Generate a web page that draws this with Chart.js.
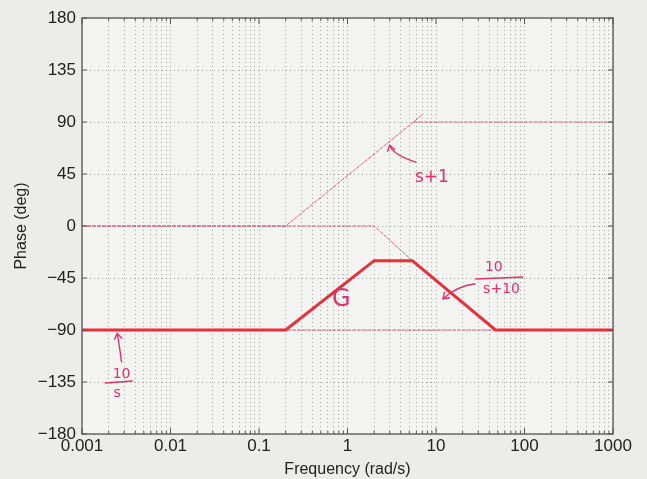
<!DOCTYPE html>
<html>
<head>
<meta charset="utf-8">
<script src="https://cdn.jsdelivr.net/npm/chart.js@4.4.0/dist/chart.umd.min.js"></script>
<style>
  html, body { margin: 0; padding: 0; background: #ececea; }
</style>
</head>
<body>
<canvas id="phaseChart" width="647" height="479"></canvas>
<script>
// axis ticks
const decades = [0.001, 0.01, 0.1, 1, 10, 100, 1000]
const phaseTicks = [-180, -135, -90, -45, 0, 45, 90, 135, 180]

// G (thick sketch), sum of the three asymptotes
const gFreq = [0.001, 0.2, 2, 5.4, 47, 1000]
const gPhase = [-90, -90, -30, -30, -90, -90]

// 10/s
const integFreq = [0.001, 1000]
const integPhase = [-90, -90]

// s+1
const leadFreq = [0.001, 0.2, 7.2]
const leadPhase = [0, 0, 97]
const leadTopFreq = [5.6, 1000]
const leadTopPhase = [90, 90]

// 10/(s+10)
const lagFreq = [0.001, 2, 5.4]
const lagPhase = [0, 0, -30]

const pts = (xs, ys) => xs.map((x, i) => ({ x, y: ys[i] }))

const thinRed = 'rgba(230, 60, 105, 0.8)'
const penRed = '#e8303a'
const inkRed = '#e4306a'

const thin = (xs, ys) => ({
    data: pts(xs, ys),
    showLine: true,
    borderColor: thinRed,
    borderWidth: 1,
    borderDash: [4, 1],
    pointRadius: 0,
    order: 2
})

const data = {
    datasets: [
        thin(integFreq, integPhase),
        thin(leadFreq, leadPhase),
        thin(leadTopFreq, leadTopPhase),
        thin(lagFreq, lagPhase),
        {
            data: pts(gFreq, gPhase),
            showLine: true,
            borderColor: penRed,
            borderWidth: 3,
            pointRadius: 0,
            order: 1
        }
    ]
}

// paper background, box, inner ticks and the pen notes
const sketchPlugin = {
    id: 'sketch',
    beforeDraw(chart) {
        const { ctx, chartArea: a } = chart
        ctx.save()
        ctx.fillStyle = '#ececea'
        ctx.fillRect(0, 0, chart.width, chart.height)
        ctx.fillStyle = '#f4f4f2'
        ctx.fillRect(a.left, a.top, a.right - a.left, a.bottom - a.top)
        ctx.restore()
    },
    afterDraw(chart) {
        const { ctx, chartArea: a, scales: { x, y } } = chart
        ctx.save()
        ctx.strokeStyle = '#555'
        ctx.lineWidth = 1.3
        ctx.strokeRect(a.left, a.top, a.right - a.left, a.bottom - a.top)

        // inward ticks
        ctx.lineWidth = 1
        ctx.beginPath()
        phaseTicks.forEach(v => {
            const py = y.getPixelForValue(v)
            ctx.moveTo(a.left, py); ctx.lineTo(a.left + 5, py)
            ctx.moveTo(a.right, py); ctx.lineTo(a.right - 5, py)
        })
        x.ticks.forEach(t => {
            const px = x.getPixelForValue(t.value)
            const len = decades.includes(t.value) ? 6 : 3
            ctx.moveTo(px, a.bottom); ctx.lineTo(px, a.bottom - len)
            ctx.moveTo(px, a.top); ctx.lineTo(px, a.top + len)
        })
        ctx.stroke()

        // handwritten notes
        const P = (fx, ph) => [x.getPixelForValue(fx), y.getPixelForValue(ph)]
        ctx.strokeStyle = inkRed
        ctx.fillStyle = inkRed
        ctx.lineWidth = 1.4
        ctx.textAlign = 'center'
        ctx.textBaseline = 'middle'

        const arrow = (from, ctrl, to) => {
            ctx.beginPath()
            ctx.moveTo(...from)
            ctx.quadraticCurveTo(...ctrl, ...to)
            ctx.stroke()
            const ang = Math.atan2(to[1] - ctrl[1], to[0] - ctrl[0])
            ctx.beginPath()
            ctx.moveTo(to[0] - 7 * Math.cos(ang - 0.6), to[1] - 7 * Math.sin(ang - 0.6))
            ctx.lineTo(...to)
            ctx.lineTo(to[0] - 7 * Math.cos(ang + 0.6), to[1] - 7 * Math.sin(ang + 0.6))
            ctx.stroke()
        }
        const bar = (p, w) => {
            ctx.beginPath()
            ctx.moveTo(p[0] - w / 2, p[1] + 1)
            ctx.lineTo(p[0] + w / 2, p[1] - 1)
            ctx.stroke()
        }

        ctx.font = '17px "DejaVu Sans"'
        // s+1
        let [sx, sy] = P(9, 42)
        ctx.fillText('s+1', sx, sy)
        arrow(P(6, 55), P(3.2, 62), P(3.0, 70))

        // G
        ctx.font = '24px "DejaVu Sans"'
        ;[sx, sy] = P(0.85, -64)
        ctx.fillText('G', sx, sy)

        // 10/(s+10)
        ctx.font = '14px "DejaVu Sans"'
        ;[sx, sy] = P(45, -36)
        ctx.fillText('10', sx, sy)
        bar(P(52, -45), 48)
        ;[sx, sy] = P(55, -55)
        ctx.fillText('s+10', sx, sy)
        arrow(P(28, -50), P(17, -52), P(12, -63))

        // 10/s
        ;[sx, sy] = P(0.0028, -128)
        ctx.fillText('10', sx, sy)
        bar(P(0.0026, -135), 28)
        ;[sx, sy] = P(0.0025, -145)
        ctx.fillText('s', sx, sy)
        arrow(P(0.0028, -118), P(0.0027, -108), P(0.0025, -93))

        ctx.restore()
    }
}

const gridColor = 'rgba(110, 110, 110, 0.6)'

const options = {
    responsive: false,
    animation: false,
    layout: { padding: { top: 18, right: 34, left: 0, bottom: 0 } },
    plugins: {
        legend: { display: false },
        tooltip: { enabled: false }
    },
    scales: {
        x: {
            type: 'logarithmic',
            min: 0.001,
            max: 1000,
            afterBuildTicks: scale => {
                const ticks = []
                decades.slice(0, -1).forEach(d => {
                    for (let k = 1; k < 10; k++) ticks.push({ value: d * k })
                })
                ticks.push({ value: 1000 })
                scale.ticks = ticks
            },
            afterFit: scale => { scale.height = 45 },
            ticks: {
                autoSkip: false,
                maxRotation: 0,
                padding: 2,
                color: '#222',
                font: { family: 'Liberation Sans', size: 17 },
                callback: v => decades.includes(v) ? String(v) : ''
            },
            grid: { color: gridColor, lineWidth: 1, drawTicks: false },
            border: { display: false, dash: [1, 3] },
            title: {
                display: true,
                text: 'Frequency (rad/s)',
                color: '#222',
                padding: { top: 0, bottom: 0 },
                font: { family: 'Liberation Sans', size: 16 }
            }
        },
        y: {
            min: -180,
            max: 180,
            afterBuildTicks: scale => { scale.ticks = phaseTicks.map(value => ({ value })) },
            afterFit: scale => { scale.width = 82 },
            ticks: {
                padding: 6,
                color: '#222',
                font: { family: 'Liberation Sans', size: 17 },
                callback: v => String(v).replace('-', '\u2212')
            },
            grid: { color: gridColor, lineWidth: 1, drawTicks: false },
            border: { display: false, dash: [1, 3] },
            title: {
                display: true,
                text: 'Phase (deg)',
                color: '#222',
                padding: { top: 12, bottom: 0 },
                font: { family: 'Liberation Sans', size: 16 }
            }
        }
    }
}

new Chart('phaseChart', { type: 'scatter', data, options, plugins: [sketchPlugin] })
</script>
</body>
</html>
